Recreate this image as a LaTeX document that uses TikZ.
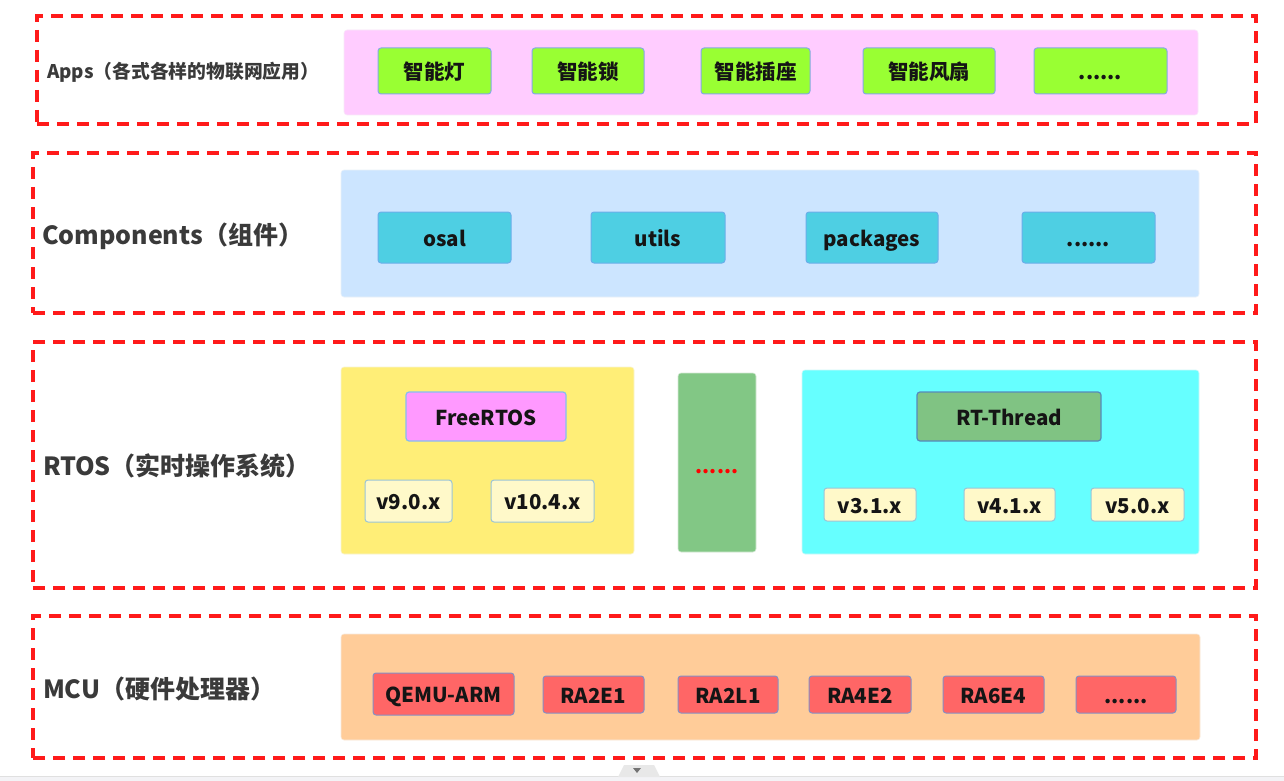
\documentclass[tikz,border=0pt]{standalone}
\usepackage{fontspec}
\setmainfont{Noto Sans CJK SC}
\definecolor{frame}{HTML}{FF1A1A}
\definecolor{lbltext}{HTML}{3A3A3A}
\definecolor{boxtext}{HTML}{151515}
\definecolor{pinkpanel}{HTML}{FFCCFF}
\definecolor{bluepanel}{HTML}{CCE5FF}
\definecolor{yellowpanel}{HTML}{FFEE77}
\definecolor{cyanpanel}{HTML}{66FFFF}
\definecolor{orangepanel}{HTML}{FFCC99}
\definecolor{midgreen}{HTML}{82C785}
\definecolor{lime}{HTML}{99FF33}
\definecolor{limeborder}{HTML}{85A8E6}
\definecolor{turq}{HTML}{4ECFE3}
\definecolor{turqborder}{HTML}{6AAEEA}
\definecolor{freertos}{HTML}{FF99FF}
\definecolor{rtthread}{HTML}{80C383}
\definecolor{verfill}{HTML}{FFF9C9}
\definecolor{verborder}{HTML}{9BC4D6}
\definecolor{redbox}{HTML}{FF6666}
\definecolor{redborder}{HTML}{8590C4}
\definecolor{uigray}{HTML}{F3F3F6}
\tikzset{
  every node/.style={inner sep=0pt, outer sep=0pt},
  framebox/.style={draw=frame, line width=3.2pt, dash pattern=on 12pt off 8pt},
  panel/.style={rounded corners=3pt, draw=#1!92!black!30, line width=0.6pt, fill=#1},
  itembox/.style={rounded corners=3pt, line width=1pt, text=boxtext, text height=20pt, text depth=3pt, font=\bfseries\fontsize{20.5}{24}\selectfont},
  appbox/.style={itembox, fill=lime, draw=limeborder},
  compbox/.style={itembox, fill=turq, draw=turqborder},
  osbox/.style={itembox, line width=1.2pt},
  verbox/.style={itembox, fill=verfill, draw=verborder},
  mcubox/.style={itembox, fill=redbox, draw=redborder},
  lbl/.style={anchor=west, text=lbltext, font=\bfseries\fontsize{25}{28}\selectfont},
}
\newcommand\bx[7]{\node[#2, minimum width={(#5)-(#3)}, minimum height={(#6)-(#4)}] (#1) at ({((#3)+(#5))/2},{((#4)+(#6))/2}) {#7};}
\begin{document}
\begin{tikzpicture}[x=1pt,y=-1pt]
\useasboundingbox[fill=white] (0,0) rectangle (1284,781);
% UI artefact at the bottom
\fill[uigray] (0,776) rectangle (1284,781);
\draw[black!12, line width=0.6pt] (0,776) -- (1284,776);
\fill[black!9] (618,777) -- (624,765) -- (654,765) -- (660,777) -- cycle;
\fill[black!55] (633,768) -- (641,768) -- (637,773) -- cycle;
% frames
\bx{fapps}{framebox}{37}{16}{1256}{124}{}
\bx{fcomp}{framebox}{33}{153}{1256}{313}{}
\bx{frtos}{framebox}{33}{342}{1256}{588}{}
\bx{fmcu}{framebox}{33}{616}{1256}{758}{}
% labels
\node[lbl, font=\bfseries\fontsize{18.8}{22}\selectfont] (lapps) at (47,72) {Apps（各式各样的物联网应用）};
\node[lbl] (lcomp) at (42,236) {Components（组件）};
\node[lbl] (lrtos) at (43,466) {RTOS（实时操作系统）};
\node[lbl] (lmcu) at (43,689) {MCU（硬件处理器）};
% Apps
\bx{papps}{panel=pinkpanel}{344}{30}{1198}{115}{}
\bx{a1}{appbox}{378}{48}{491}{94}{智能灯}
\bx{a2}{appbox}{532}{48}{644}{94}{智能锁}
\bx{a3}{appbox}{701}{48}{810}{94}{智能插座}
\bx{a4}{appbox}{863}{48}{995}{94}{智能风扇}
\bx{a5}{appbox}{1034}{48}{1167}{94}{......}
% Components
\bx{pcomp}{panel=bluepanel}{341}{170}{1199}{297}{}
\bx{c1}{compbox}{378}{212}{511}{263}{osal}
\bx{c2}{compbox}{591}{212}{725}{263}{utils}
\bx{c3}{compbox}{806}{212}{938}{263}{packages}
\bx{c4}{compbox}{1022}{212}{1155}{263}{......}
% RTOS
\bx{pfree}{panel=yellowpanel}{341}{367}{634}{554}{}
\bx{freertos}{osbox, fill=freertos, draw=turqborder!80}{406}{392}{566}{441}{FreeRTOS}
\bx{f1}{verbox}{365}{480}{452}{522}{v9.0.x}
\bx{f2}{verbox}{491}{480}{594}{522}{v10.4.x}
\bx{pmid}{panel=midgreen}{678}{373}{756}{552}{}
\node[anchor=base, text=red, font=\bfseries\fontsize{20}{24}\selectfont] (middots) at (717,473) {......};
\bx{prt}{panel=cyanpanel}{802}{370}{1199}{554}{}
\bx{rtthread}{osbox, fill=rtthread, draw=turqborder!80!black}{917}{392}{1101}{441}{RT-Thread}
\bx{r1}{verbox}{824}{488}{916}{521}{v3.1.x}
\bx{r2}{verbox}{964}{488}{1055}{521}{v4.1.x}
\bx{r3}{verbox}{1091}{488}{1184}{521}{v5.0.x}
% MCU
\bx{pmcu}{panel=orangepanel}{341}{634}{1200}{740}{}
\bx{m1}{mcubox}{373}{673}{514}{715}{QEMU-ARM}
\bx{m2}{mcubox}{543}{676}{644}{713}{RA2E1}
\bx{m3}{mcubox}{678}{676}{778}{713}{RA2L1}
\bx{m4}{mcubox}{809}{676}{911}{713}{RA4E2}
\bx{m5}{mcubox}{943}{676}{1044}{713}{RA6E4}
\bx{m6}{mcubox}{1076}{676}{1176}{713}{......}
\end{tikzpicture}
\end{document}
